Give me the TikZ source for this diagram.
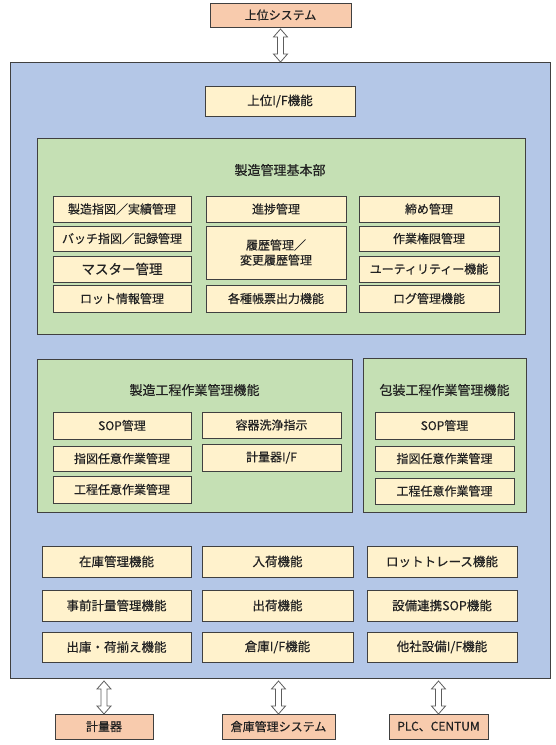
\documentclass[tikz,border=0pt]{standalone}
\usepackage{fontspec}
\setmainfont[FakeBold=0.4]{Noto Sans CJK JP}
\usetikzlibrary{calc}
\definecolor{peach}{HTML}{F8CBAD}
\definecolor{bluebg}{HTML}{B4C7E7}
\definecolor{greenbg}{HTML}{C5E0B4}
\definecolor{yel}{HTML}{FFF2CC}
\definecolor{edge}{HTML}{404040}
\definecolor{txt}{HTML}{222222}
\tikzset{
  base/.style={draw=edge, line width=0.8pt, inner sep=0pt, outer sep=0pt, text=txt, font=\fontsize{12}{15}\selectfont},
  ext/.style={base, fill=peach},
  panel/.style={base, fill=bluebg},
  group/.style={base, fill=greenbg},
  fn/.style={base, fill=yel},
  fnlow/.style={fn, font=\fontsize{12.5}{15}\selectfont},
  fnbig/.style={fn, font=\fontsize{13.5}{16}\selectfont},
  grouptitle/.style={text=txt, inner sep=0pt, font=\fontsize{13}{15}\selectfont},
  udarr/.style={draw=edge!85, fill=white, line width=0.8pt, line join=miter}
}
\newcommand{\bx}[7]{\node[#6, minimum width={(#4-#2)*1pt}, minimum height={(#5-#3)*1pt}] (#1) at ({(#2+#4)/2},{-(#3+#5)/2}) {#7};}
\newcommand{\udarrow}[2]{\draw[udarr] let \p1=(#1), \p2=(#2) in (\x1,\y1) -- (\x1+7pt,\y1-8pt) -- (\x1+3pt,\y1-8pt) -- (\x1+3pt,\y2+8pt) -- (\x1+7pt,\y2+8pt) -- (\x1,\y2) -- (\x1-7pt,\y2+8pt) -- (\x1-3pt,\y2+8pt) -- (\x1-3pt,\y1-8pt) -- (\x1-7pt,\y1-8pt) -- cycle;}
\begin{document}
\begin{tikzpicture}[x=1pt,y=1pt]
\useasboundingbox (0,0) rectangle (556,-745);
% external systems
\bx{top}{210}{3}{351}{27}{ext}{上位システム}
% main panel
\bx{blue}{10}{62}{550}{678}{panel}{}
\bx{ifup}{205}{86}{355}{116}{fnlow}{上位I/F機能}
% group 1
\bx{g1}{37}{138}{525}{334}{group}{}
\node[grouptitle] (t1) at (280,-170) {製造管理基本部};
\bx{a11}{53}{196}{191}{222}{fn}{製造指図／実績管理}
\bx{a12}{53}{226}{191}{251}{fn}{バッチ指図／記録管理}
\bx{a13}{53}{256}{191}{282}{fnbig}{マスター管理}
\bx{a14}{53}{285}{191}{312}{fn}{ロット情報管理}
\bx{a21}{206}{196}{346}{222}{fn}{進捗管理}
\bx{a22}{206}{226}{346}{279}{fn, align=center}{履歴管理／\\変更履歴管理}
\bx{a24}{206}{285}{346}{312}{fn}{各種帳票出力機能}
\bx{a31}{359}{196}{499}{222}{fn}{締め管理}
\bx{a32}{359}{226}{499}{251}{fn}{作業権限管理}
\bx{a33}{359}{256}{499}{282}{fn}{ユーティリティー機能}
\bx{a34}{359}{285}{499}{312}{fn}{ログ管理機能}
% group 2
\bx{g2}{37}{359}{352}{512}{group}{}
\node[grouptitle] (t2) at (194.5,-390) {製造工程作業管理機能};
\bx{b11}{53}{412}{191}{439}{fn}{SOP管理}
\bx{b12}{53}{446}{191}{471}{fn}{指図任意作業管理}
\bx{b13}{53}{476}{191}{503}{fn}{工程任意作業管理}
\bx{b21}{202}{412}{341}{438}{fn}{容器洗浄指示}
\bx{b22}{202}{444}{341}{471}{fn}{計量器I/F}
% group 3
\bx{g3}{363}{358}{526}{512}{group}{}
\node[grouptitle] (t3) at (444.5,-390) {包装工程作業管理機能};
\bx{c1}{375}{412}{514}{439}{fn}{SOP管理}
\bx{c2}{375}{446}{514}{471}{fn}{指図任意作業管理}
\bx{c3}{375}{478}{514}{504}{fn}{工程任意作業管理}
% bottom functions
\bx{d11}{42}{546}{191}{577}{fnlow}{在庫管理機能}
\bx{d12}{42}{590}{191}{621}{fnlow}{事前計量管理機能}
\bx{d13}{42}{632}{191}{662}{fnlow}{出庫・荷揃え機能}
\bx{d21}{202}{546}{353}{577}{fnlow}{入荷機能}
\bx{d22}{202}{590}{353}{621}{fnlow}{出荷機能}
\bx{d23}{202}{632}{353}{662}{fnlow}{倉庫I/F機能}
\bx{d31}{367}{546}{517}{577}{fnlow}{ロットトレース機能}
\bx{d32}{367}{590}{517}{621}{fnlow}{設備連携SOP機能}
\bx{d33}{367}{632}{517}{662}{fnlow}{他社設備I/F機能}
% bottom external systems
\bx{keiryo}{55}{714}{153}{739}{ext}{計量器}
\bx{soko}{222}{714}{335}{739}{ext}{倉庫管理システム}
\bx{plc}{389}{714}{488}{739}{ext}{PLC、CENTUM}
% arrows
\coordinate (p0t) at ($(top.south)+(0,-2)$);
\coordinate (p0b) at (top.south |- blue.north);
\udarrow{p0t}{p0b}
\coordinate (p1t) at ($(keiryo.north |- blue.south)+(0,-3)$);
\coordinate (p1b) at (keiryo.north);
\udarrow{p1t}{p1b}
\coordinate (p2t) at ($(soko.north |- blue.south)+(0,-3)$);
\coordinate (p2b) at (soko.north);
\udarrow{p2t}{p2b}
\coordinate (p3t) at ($(plc.north |- blue.south)+(0,-3)$);
\coordinate (p3b) at (plc.north);
\udarrow{p3t}{p3b}
\end{tikzpicture}
\end{document}
